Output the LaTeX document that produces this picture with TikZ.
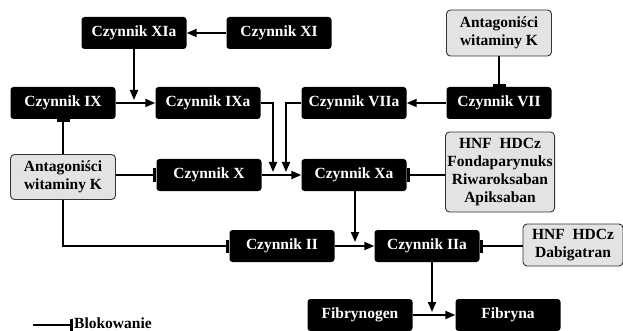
\documentclass[tikz,border=0pt]{standalone}
\usepackage{fontspec}
\setmainfont{Liberation Serif}
\usetikzlibrary{arrows.meta}
\begin{document}
\begin{tikzpicture}[
  x=1pt, y=-1pt,
  fbox/.style={
    fill=black, text=white, rounded corners=3pt,
    minimum width=105pt, minimum height=32pt, inner sep=0pt,
    font=\fontsize{15.5}{18}\selectfont\bfseries,
  },
  dbox/.style={
    draw=black!80, fill=gray!22, line width=0.9pt, rounded corners=4pt,
    minimum width=105pt, inner sep=2pt, align=center,
    font=\fontsize{15.5}{18}\selectfont\bfseries,
  },
  act/.style={line width=1.8pt, -{Triangle[length=10pt,width=8pt]}},
  blk/.style={line width=1.8pt, -{Bar[width=13pt,line width=3pt]}},
]
\useasboundingbox (0,0) rectangle (623,331);

% factors
\node[fbox] (xia)  at (134,33)  {Czynnik XIa};
\node[fbox] (xi)   at (279,33)  {Czynnik XI};
\node[fbox] (ix)   at (63,103)  {Czynnik IX};
\node[fbox] (ixa)  at (208,103) {Czynnik IXa};
\node[fbox] (viia) at (354,103) {Czynnik VIIa};
\node[fbox] (vii)  at (499,103) {Czynnik VII};
\node[fbox] (x)    at (209,175) {Czynnik X};
\node[fbox] (xa)   at (354,175) {Czynnik Xa};
\node[fbox] (ii)   at (282,246) {Czynnik II};
\node[fbox] (iia)  at (427,246) {Czynnik IIa};
\node[fbox] (fgen) at (360,315) {Fibrynogen};
\node[fbox] (fib)  at (508,315) {Fibryna};

% drugs
\node[dbox, minimum height=46pt] (avka) at (499,33)  {Antagoniści\\witaminy K};
\node[dbox, minimum height=45pt] (avkb) at (63,177)  {Antagoniści\\witaminy K};
\node[dbox, minimum width=108pt, minimum height=80pt] (hnf) at (500,172)
  {HNF~~HDCz\\Fondaparynuks\\Riwaroksaban\\Apiksaban};
\node[dbox, minimum width=100pt, minimum height=42pt] (dab) at (573,245)
  {HNF~~HDCz\\Dabigatran};

% junction points
\coordinate (j1) at (134,100);
\coordinate (j2) at (273,172);
\coordinate (j3) at (286,172);
\coordinate (j4) at (355,242);
\coordinate (j5) at (432,312);

% activation
\draw[act] (xi) -- (xia);
\draw[act] (ix) -- (ixa);
\draw[act] (xia) -- (j1);
\draw[act] (vii) -- (viia);
\draw[act] (ixa.east) -| (j2);
\draw[act] (viia.west) -| (j3);
\draw[act] (x) -- (xa);
\draw[act] (xa.south -| j4) -- (j4);
\draw[act] (ii) -- (iia);
\draw[act] (iia.south -| j5) -- (j5);
\draw[act] (fgen) -- (fib);

% blocking
\draw[blk] (avka) -- (vii);
\draw[blk] (avkb) -- (ix);
\draw[blk] (avkb.east |- x) -- (x);
\draw[blk] (avkb.south) |- (ii.west);
\draw[blk] (hnf.west |- xa) -- (xa);
\draw[blk] (dab.west |- iia) -- (iia);

% legend
\coordinate (lg) at (33,325);
\node[anchor=west, inner sep=1pt, font=\fontsize{15.5}{18}\selectfont\bfseries]
  (lgt) at (73,323) {Blokowanie};
\draw[blk] (lg) -- (lgt.west |- lg);

\end{tikzpicture}
\end{document}
